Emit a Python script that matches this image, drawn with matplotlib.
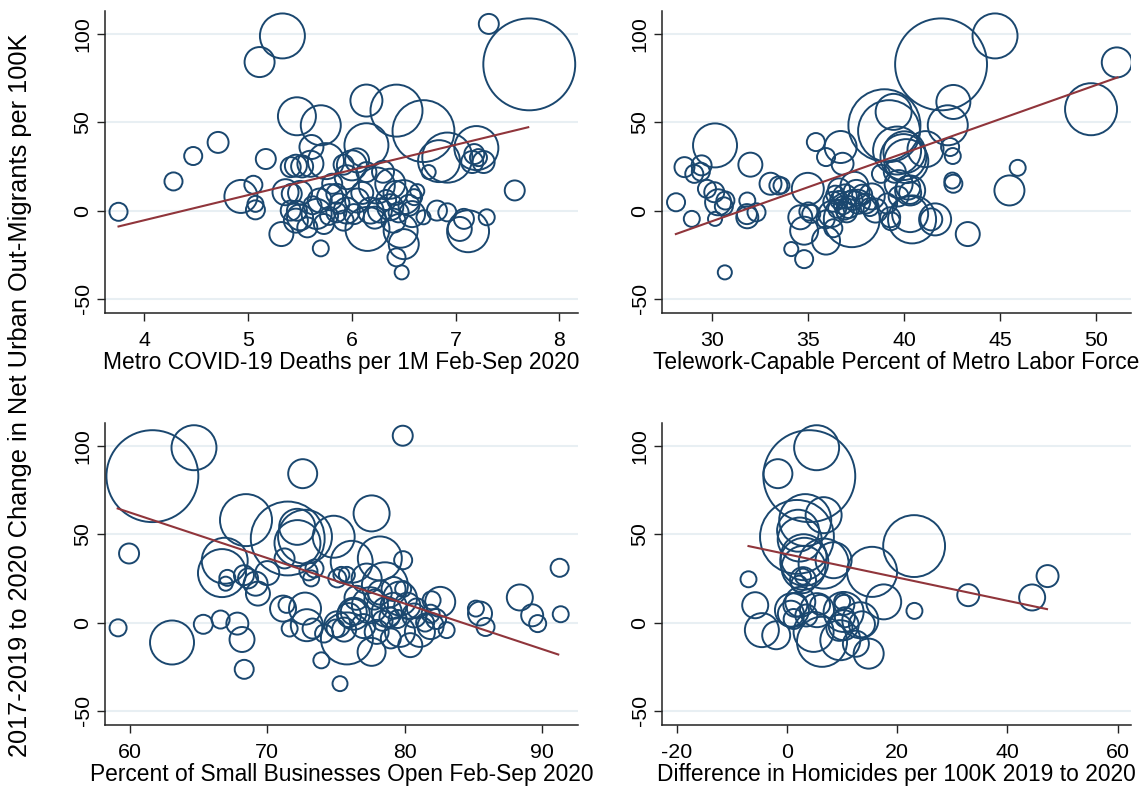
import numpy as np
import matplotlib
matplotlib.use('Agg')
from matplotlib import pyplot as plt

plt.rcParams['font.family'] = ['Liberation Sans', 'DejaVu Sans']
plt.rcParams['axes.unicode_minus'] = False

# metro population (millions) sets bubble area
# --- panel 1: COVID deaths
deaths = [3.75, 4.28, 4.47, 4.71, 5.11, 5.33, 5.17, 4.93, 5.05, 5.07, 5.07, 5.32, 5.47, 5.70,
          5.61, 5.60, 5.75, 5.46, 5.52, 6.14, 6.43, 6.69, 6.14, 6.84, 6.92, 7.20, 7.18, 7.16,
          7.27, 7.22, 6.74, 7.57, 7.32, 7.71, 6.92, 7.08, 7.04, 7.12, 7.30, 6.47, 6.50, 6.43,
          6.48, 5.70, 6.15, 6.00, 6.05, 5.95, 6.14, 6.24, 6.37, 6.50, 6.37, 6.60, 6.63, 6.69,
          5.69, 5.79, 5.85, 5.66, 5.50, 5.47, 5.95, 6.05, 5.92, 6.18, 6.27, 5.73, 5.57, 6.40,
          5.85, 5.81, 5.92, 5.42, 6.82, 5.41, 5.36, 5.41, 5.46, 5.50, 6.30, 6.42, 6.55, 6.58,
          5.62, 5.78, 5.88, 6.02, 6.10, 6.33, 6.45, 6.22]
mig_d = [-0.7, 16.5, 30.9, 38.6, 84.1, 98.9, 29.2, 8.0, 14.6, 3.8, 0.4, -13.3, 53.4, 48.3,
         36.0, 26.5, 28.0, 25.4, 25.0, 62.3, 56.6, 45.0, 37.0, 28.0, 30.0, 35.4, 32.0, 27.5,
         27.5, 30.0, 21.8, 11.4, 105.7, 82.8, -1.0, -4.7, -10.4, -11.7, -3.8, -11.4, -19.0, -26.5,
         -35.0, -21.4, -10.4, 25.6, 28.4, 18.9, 21.8, 14.2, 15.2, 7.6, 1.9, 7.6, 11.0, -3.8,
         5.7, 7.6, 9.5, -1.9, -3.8, -0.1, 0.0, 5.7, -5.7, 0.0, 0.0, -7.6, -9.5, -5.7,
         -1.0, 15.2, 26.0, 9.5, 0.0, 24.6, 10.4, 0.0, -5.7, 10.0, 22.0, 10.0, 3.0, -2.0,
         3.0, -3.0, 4.0, -2.0, 10.0, 6.0, -1.0, -4.0]
pop_d = [0.74, 0.74, 0.74, 1.0, 2.05, 4.6, 0.91, 2.48, 0.74, 0.58, 0.82, 1.31, 3.28, 3.64,
         1.31, 1.54, 2.95, 1.10, 1.10, 2.33, 6.15, 8.7, 4.4, 4.0, 5.7, 4.4, 0.91, 1.10,
         1.10, 0.66, 0.45, 0.91, 0.91, 19.2, 0.74, 0.91, 1.31, 4.0, 0.58, 2.63, 2.05, 0.74,
         0.45, 0.58, 4.4, 2.05, 1.31, 1.31, 0.91, 2.95, 2.05, 2.63, 1.54, 0.58, 0.45, 0.45,
         1.31, 1.54, 0.91, 2.05, 1.54, 0.91, 1.54, 1.31, 0.91, 1.54, 1.31, 0.91, 0.91, 1.31,
         0.91, 0.91, 0.91, 0.91, 0.91, 0.91, 1.54, 0.91, 1.31, 1.31, 1.10, 1.31, 1.0, 1.54,
         0.74, 0.74, 0.91, 0.91, 1.10, 0.91, 0.91, 1.10]
fit_d_x = [3.75, 7.70]
fit_d_y = [-9.0, 47.2]

# --- panel 2: telework
telework = [30.14, 28.55, 28.11, 28.93, 29.44, 29.06, 29.40, 29.72, 30.10, 30.30, 30.68, 30.60,
            30.14, 30.65, 31.98, 31.82, 31.82, 31.80, 32.30, 33.03, 33.44, 33.60, 35.39, 34.97,
            34.11, 34.78, 34.58, 34.78, 35.15, 35.00, 35.92, 35.92, 36.68, 36.78, 36.60, 36.30,
            36.50, 36.80, 36.90, 35.90, 36.30, 37.26, 37.60, 37.80, 38.00, 37.40, 38.78, 38.96,
            39.44, 39.20, 39.62, 40.00, 40.10, 39.50, 39.70, 40.20, 40.30, 39.70, 39.10, 39.30,
            40.30, 40.40, 41.10, 41.40, 41.60, 41.91, 44.72, 42.55, 42.26, 42.38, 42.52, 42.55,
            42.50, 45.90, 45.47, 43.30, 49.72, 51.06, 39.26, 40.30, 39.95, 36.90, 37.10, 37.50,
            38.30, 38.50, 36.20, 36.60, 37.00, 37.30, 38.20, 36.40]
mig_t = [36.9, 24.6, 4.7, -4.7, 25.6, 20.8, 22.0, 12.3, 10.4, 4.7, 5.7, 2.4,
         -4.7, -35.0, 26.0, 5.7, -3.8, -2.0, -1.0, 15.2, 14.2, 14.2, 38.8, 12.3,
         -21.8, -27.5, -3.8, -11.4, -1.9, -0.5, -17.0, 30.3, 36.0, 26.5, 12.0, 5.0,
         1.0, 3.0, 0.0, -5.0, -10.0, -4.9, 5.0, 9.0, 4.0, 14.0, 20.8, 48.3,
         55.9, 45.0, 34.0, 33.0, 28.0, 22.0, 15.0, 13.0, 10.0, 8.0, 4.0, -6.0,
         -2.0, -5.0, 34.8, -5.0, -5.0, 82.8, 98.9, 61.5, 48.3, 36.0, 30.9, 15.2,
         17.0, 24.2, 11.4, -13.3, 57.4, 83.9, -3.8, 11.4, 30.3, 8.0, 2.0, 10.0,
         8.0, 0.0, -2.0, 6.0, -1.0, 6.0, 2.0, 9.0]
pop_t = [4.4, 0.91, 0.74, 0.58, 0.91, 0.74, 0.74, 0.74, 0.91, 1.54, 0.74, 0.74,
         0.45, 0.45, 1.31, 0.58, 1.10, 0.91, 0.74, 1.10, 0.74, 0.58, 0.74, 2.33,
         0.45, 0.74, 1.31, 1.78, 0.74, 0.74, 1.78, 0.74, 2.33, 1.10, 1.10, 0.91,
         0.74, 0.74, 0.74, 0.74, 0.74, 7.1, 1.31, 0.91, 0.91, 1.78, 0.74, 11.8,
         2.95, 8.7, 5.24, 4.0, 4.4, 1.10, 1.78, 1.31, 1.10, 0.91, 0.91, 0.74,
         2.95, 5.24, 2.95, 1.10, 2.33, 19.2, 4.6, 2.63, 3.64, 0.74, 0.58, 0.74,
         0.58, 0.58, 2.05, 1.31, 6.15, 2.05, 0.91, 2.05, 4.8, 1.31, 1.10, 1.54,
         1.54, 1.31, 1.54, 0.74, 0.91, 0.91, 0.74, 0.74]
fit_t_x = [28.1, 51.1]
fit_t_y = [-13.3, 75.4]

# --- panel 3: small businesses open
biz_open = [61.63, 64.66, 59.93, 59.13, 63.06, 65.34, 66.60, 67.82, 68.16, 68.32, 68.45, 72.58,
            66.90, 66.70, 67.09, 66.97, 68.30, 68.60, 69.15, 69.32, 71.49, 72.18, 72.20, 72.75,
            74.84, 77.60, 79.87, 76.15, 78.20, 78.57, 79.90, 91.30, 91.38, 88.40, 89.30, 89.70,
            85.20, 85.50, 85.90, 82.60, 81.97, 81.90, 75.30, 73.94, 75.80, 77.60, 80.42, 72.88,
            72.75, 71.15, 71.40, 71.63, 73.30, 74.14, 74.98, 75.10, 75.95, 76.30, 75.10, 75.40,
            73.44, 73.00, 73.20, 70.00, 71.26, 77.24, 75.80, 79.67, 81.12, 81.90, 83.07, 82.30,
            77.97, 77.00, 75.60, 78.70, 79.20, 79.67, 80.20, 80.70, 78.90, 77.48, 76.30, 76.50,
            78.20, 79.20, 79.90, 78.40, 79.50, 80.90, 77.80, 81.50, 79.00]
mig_b = [82.9, 99.0, 39.1, -3.0, -11.3, -1.0, 1.7, -0.6, -9.6, -26.5, 58.0, 84.3,
         35.0, 28.0, 25.3, 22.0, 26.8, 25.0, 22.0, 16.4, 47.6, 54.2, 45.0, 48.6,
         48.6, 61.8, 105.8, 34.4, 36.3, 21.1, 35.3, 31.0, 4.7, 14.2, 4.1, -0.6,
         7.9, 5.1, -2.5, 11.7, 12.6, 5.0, -34.6, -21.4, -9.0, -16.6, -12.8, -1.5,
         7.9, 7.9, 10.0, -3.4, -3.4, -6.2, -3.4, -1.0, 4.2, 6.0, 25.0, 27.0,
         30.6, 29.0, 25.0, 28.0, 36.3, 24.9, 27.0, -5.3, -5.3, -2.0, -4.3, 2.0,
         -5.3, -2.0, -4.0, 6.0, 9.5, 13.6, 9.5, 4.0, 3.0, 9.8, 5.0, 14.0,
         17.0, 19.0, 19.0, 1.0, 2.0, 8.0, 13.0, 0.0, -9.0]
pop_b = [19.2, 4.6, 0.91, 0.66, 4.4, 0.82, 0.74, 1.10, 1.42, 0.82, 6.15, 1.91,
         4.8, 5.24, 0.58, 0.45, 0.91, 0.91, 1.31, 1.31, 12.4, 2.95, 4.8, 6.6,
         4.0, 2.95, 0.91, 4.0, 4.4, 4.8, 0.74, 0.74, 0.58, 1.54, 1.10, 0.66,
         0.58, 1.31, 0.74, 2.05, 0.74, 0.74, 0.51, 0.58, 6.15, 1.78, 1.31, 2.33,
         2.33, 1.54, 0.58, 0.58, 0.91, 0.74, 0.74, 1.54, 1.31, 1.54, 0.74, 0.58,
         0.74, 0.74, 0.58, 1.31, 0.91, 2.05, 0.58, 2.05, 2.05, 1.54, 0.58, 0.91,
         1.31, 1.31, 1.31, 2.05, 1.54, 2.63, 1.54, 1.31, 0.91, 2.95, 2.33, 1.31,
         1.31, 1.31, 0.58, 0.91, 0.74, 0.91, 0.91, 0.74, 0.91]
fit_b_x = [59.1, 91.2]
fit_b_y = [64.6, -18.1]

# --- panel 4: homicides
homicide = [4.04, 5.37, -1.66, 1.80, 3.30, 6.64, 2.00, 2.30, 23.07, 3.13, 3.00, 3.00,
            6.64, 8.45, 15.43, 17.55, 23.13, -7.00, -5.78, -4.57, -1.97, 2.90, 2.90, 2.40,
            0.89, 0.70, 1.20, 5.44, 6.00, 4.82, 6.35, 10.27, 10.27, 10.40, 10.50, 9.50,
            9.67, 13.30, 13.60, 14.82, 12.50, 10.00, 2.20, 32.90, 44.50, 47.30, 1.50, 3.50]
mig_h = [82.9, 99.0, 84.3, 48.5, 58.0, 60.8, 52.0, 47.0, 43.3, 34.4, 37.0, 31.0,
         33.4, 35.3, 28.7, 11.7, 6.6, 24.5, 9.8, -4.3, -7.2, 24.0, 26.0, 11.7,
         7.0, 5.0, 2.0, 7.0, 10.0, -5.3, -10.9, 6.0, -1.5, 10.0, 3.0, -3.0,
         -10.0, 1.3, -1.0, -17.6, -12.0, 12.0, 22.0, 15.5, 14.2, 26.3, 10.0, 4.0]
pop_h = [19.2, 4.6, 1.91, 12.4, 6.15, 2.95, 4.0, 4.4, 8.7, 5.24, 4.8, 4.4,
         5.7, 2.95, 5.7, 2.78, 0.58, 0.58, 1.54, 2.63, 1.78, 1.54, 0.58, 2.05,
         2.63, 1.54, 0.91, 2.63, 0.91, 3.64, 5.7, 3.64, 2.05, 0.91, 0.91, 1.54,
         3.64, 2.95, 1.54, 2.05, 1.54, 0.58, 0.58, 1.10, 1.54, 1.10, 1.31, 1.10]
fit_h_x = [-7.0, 47.2]
fit_h_y = [43.3, 7.6]

navy = '#1a476f'
maroon = '#90353b'
grid_col = '#e8eff3'


def panel(ax, x, y, pop, fx, fy, xlim, xticks, xlabel):
    ax.scatter(x, y, s=np.array(pop) * 228, facecolors='none', edgecolors=navy,
               linewidths=1.4, zorder=2)
    ax.plot(fx, fy, color=maroon, lw=1.5, zorder=3)
    ax.set_xlim(*xlim)
    ax.set_ylim(-58, 113)
    ax.set_xticks(xticks)
    ax.set_yticks([-50, 0, 50, 100])
    ax.yaxis.grid(True, color=grid_col, lw=1.5)
    ax.set_axisbelow(True)
    for side in ['top', 'right']:
        ax.spines[side].set_visible(False)
    for side in ['left', 'bottom']:
        ax.spines[side].set_color('#222222')
        ax.spines[side].set_linewidth(1.1)
    ax.tick_params(axis='both', direction='out', length=6, width=1.0,
                   labelsize=15.4, color='#222222')
    ax.tick_params(axis='x', pad=7)
    ax.tick_params(axis='y', pad=3, labelrotation=90)
    for lab in ax.get_yticklabels():
        lab.set_va('center')
    ax.set_xlabel(xlabel, fontsize=16.4, labelpad=1)


fig = plt.figure(figsize=(11.43, 7.88), dpi=100)
ax1 = fig.add_axes([0.0919, 0.6028, 0.4138, 0.3832])
ax2 = fig.add_axes([0.5792, 0.6028, 0.4103, 0.3832])
ax3 = fig.add_axes([0.0919, 0.0800, 0.4138, 0.3832])
ax4 = fig.add_axes([0.5792, 0.0800, 0.4103, 0.3832])

panel(ax1, deaths, mig_d, pop_d, fit_d_x, fit_d_y, (3.62, 8.18), [4, 5, 6, 7, 8],
      'Metro COVID-19 Deaths per 1M Feb-Sep 2020')
panel(ax2, telework, mig_t, pop_t, fit_t_x, fit_t_y, (27.38, 51.8), [30, 35, 40, 45, 50],
      'Telework-Capable Percent of Metro Labor Force')
panel(ax3, biz_open, mig_b, pop_b, fit_b_x, fit_b_y, (58.18, 92.64), [60, 70, 80, 90],
      'Percent of Small Businesses Open Feb-Sep 2020')
panel(ax4, homicide, mig_h, pop_h, fit_h_x, fit_h_y, (-22.7, 62.45), [-20, 0, 20, 40, 60],
      'Difference in Homicides per 100K 2019 to 2020')

fig.text(0.0175, 0.499, '2017-2019 to 2020 Change in Net Urban Out-Migrants per 100K',
         rotation=90, va='center', ha='center', fontsize=18.3)

fig.savefig('out.png', dpi=100)
